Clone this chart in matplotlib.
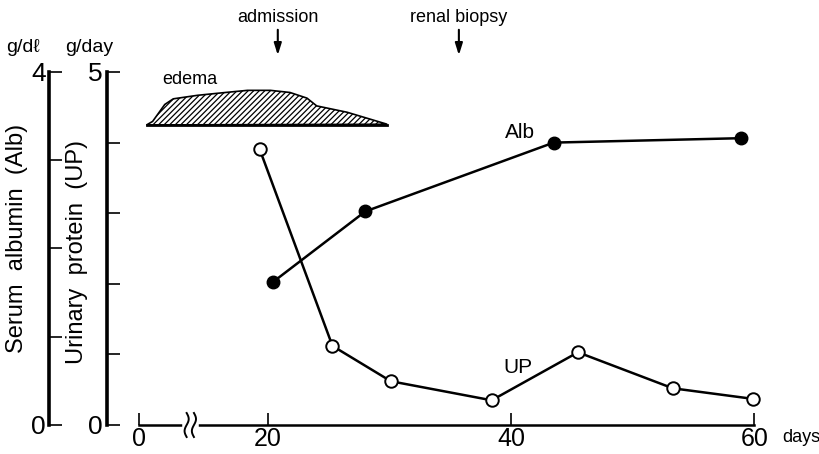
import numpy as np
import matplotlib
matplotlib.use("Agg")
import matplotlib.pyplot as plt

plt.rcParams["font.family"] = ["Liberation Sans", "DejaVu Sans"]
plt.rcParams["hatch.linewidth"] = 0.9

# --- data (days, values) ---
up_days = [19.3, 25.3, 30.1, 38.4, 45.5, 53.3, 59.9]
up_vals = [3.91, 1.12, 0.62, 0.35, 1.03, 0.52, 0.37]      # g/day

alb_days = [20.4, 28.0, 43.5, 58.9]
alb_vals = [1.62, 2.42, 3.20, 3.25]                       # g/dl

# edema band outline (days, in UP-axis units)
edema_days = [10.0, 10.5, 11.0, 11.5, 12.2, 14.2, 16.5, 18.3, 20.2, 21.8, 23.2, 24.0, 26.5, 29.8]
edema_top = [4.25, 4.30, 4.42, 4.54, 4.62, 4.67, 4.71, 4.74, 4.74, 4.71, 4.63, 4.52, 4.43, 4.26]
edema_base = 4.25

events = {"admission": 20.8, "renal biopsy": 35.7}

x_origin = 9.38          # where the "0" of the broken axis sits
x_ticks = [x_origin, 20, 40, 60]
x_ticklabels = ["0", "20", "40", "60"]


def main():
    fig = plt.figure(figsize=(8.2, 4.54), dpi=100)
    W, H = 820, 454
    ax = fig.add_axes([139 / W, (H - 425) / H, (770 - 139) / W, (425 - 72) / H])
    ax.set_xlim(x_origin, 61.3)
    ax.set_ylim(0, 5)

    # UP axis (inner left)
    ax.spines["top"].set_visible(False)
    ax.spines["right"].set_visible(False)
    ax.spines["left"].set_position(("outward", 23))
    ax.spines["left"].set_linewidth(2.6)
    ax.spines["bottom"].set_linewidth(1.8)
    ax.spines["bottom"].set_bounds(x_origin, 60)
    ax.set_yticks([0, 1, 2, 3, 4, 5])
    ax.set_yticklabels(["0", "", "", "", "", "5"])
    ax.tick_params(axis="y", direction="in", length=9, width=1.2, pad=3, labelsize=19)
    ax.set_xticks(x_ticks)
    ax.set_xticklabels(x_ticklabels)
    ax.tick_params(axis="x", direction="in", length=9, width=1.2, pad=1.5, labelsize=18)

    # Alb axis (outer left)
    ax2 = ax.twinx()
    ax2.set_ylim(0, 4)
    ax2.yaxis.set_ticks_position("left")
    ax2.yaxis.set_label_position("left")
    for s in ["top", "right", "bottom"]:
        ax2.spines[s].set_visible(False)
    ax2.spines["left"].set_visible(True)
    ax2.spines["left"].set_position(("outward", 65))
    ax2.spines["left"].set_linewidth(2.6)
    ax2.set_yticks([0, 1, 2, 3, 4])
    ax2.set_yticklabels(["0", "", "", "", "4"])
    ax2.tick_params(axis="y", direction="in", length=9, width=1.2, pad=2, labelsize=19)

    # axis break on x
    xb = 13.6
    ax.plot([xb - 0.45, xb + 0.45], [0, 0], color="white", lw=4, clip_on=False, zorder=5)
    t = np.linspace(-1, 1, 40)
    for cx in [xb - 0.3, xb + 0.3]:
        ax.plot(cx + 0.17 * np.sin(np.pi * t), 0.17 * t, color="black", lw=1.4,
                clip_on=False, zorder=6)

    # edema
    ax.fill(edema_days, edema_top, facecolor="white", edgecolor="black", hatch="//////",
            linewidth=1.2, zorder=2)
    ax.plot([edema_days[0], edema_days[-1]], [edema_base, edema_base], color="black", lw=2)
    ax.text(13.6, 4.89, "edema", fontsize=13, ha="center", va="center")

    # series
    ax2.plot(alb_days, alb_vals, color="black", lw=1.8, marker="o", markersize=9,
             markerfacecolor="black", markeredgecolor="black", zorder=4)
    ax.plot(up_days, up_vals, color="black", lw=1.8, marker="o", markersize=9,
            markerfacecolor="white", markeredgecolor="black", markeredgewidth=1.4, zorder=4)
    ax.text(40.7, 4.14, "Alb", fontsize=15, ha="center", va="center")
    ax.text(40.6, 0.81, "UP", fontsize=15, ha="center", va="center")

    # event arrows
    for name, d in events.items():
        ax.annotate("", xy=(d, H - 58), xycoords=("data", "figure pixels"),
                    xytext=(d, H - 27), textcoords=("data", "figure pixels"),
                    arrowprops=dict(arrowstyle="-|>,head_length=0.7,head_width=0.22",
                                    color="black", lw=1.5))
        ax.annotate(name, xy=(d, H - 17), xycoords=("data", "figure pixels"),
                    fontsize=13, ha="center", va="center")

    # labels
    ax.text(63.9, -0.17, "days", fontsize=13, ha="center", va="center")
    fig.text(23 / W, 1 - 47 / H, "g/dℓ", fontsize=14, ha="center", va="center")
    fig.text(89 / W, 1 - 47 / H, "g/day", fontsize=14, ha="center", va="center")
    fig.text(17 / W, 1 - 238 / H, "Serum  albumin  (Alb)", fontsize=17, rotation=90,
             ha="center", va="center")
    fig.text(77 / W, 1 - 252 / H, "Urinary  protein  (UP)", fontsize=17, rotation=90,
             ha="center", va="center")

    fig.savefig("out.png", dpi=100)
    plt.close(fig)


if __name__ == "__main__":
    main()
